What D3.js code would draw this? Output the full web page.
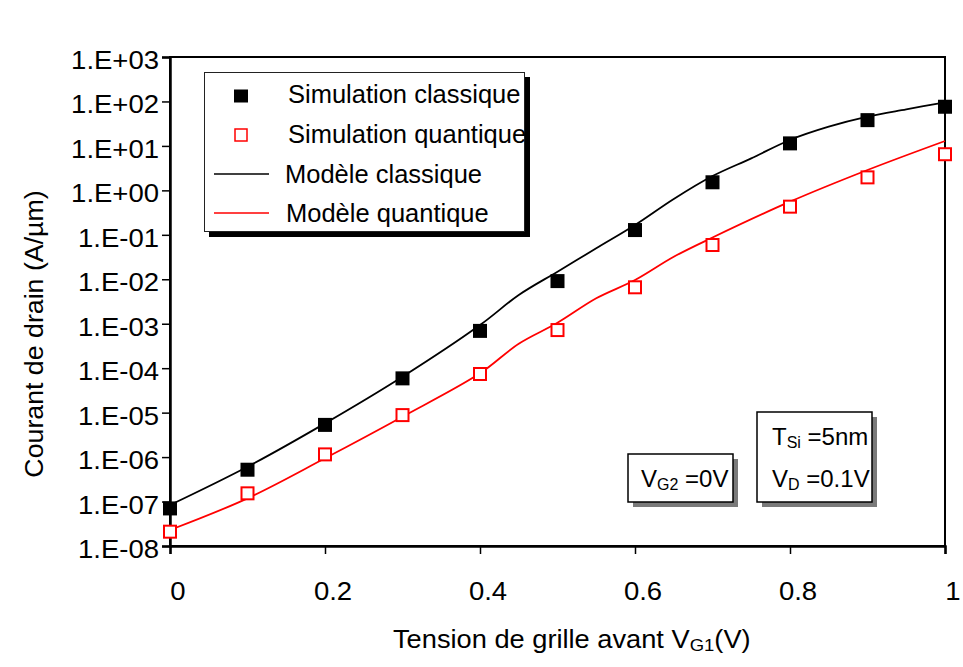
<!DOCTYPE html>
<html><head><meta charset="utf-8">
<script src="https://cdn.jsdelivr.net/npm/d3@7"></script>
<style>
html,body{margin:0;padding:0;background:#fff;}
text{font-family:"Liberation Sans",Arial,sans-serif;fill:#000;}
</style></head>
<body>
<svg id="chart" width="963" height="667"></svg>
<script>
// ---- data ----
const vg = [0, 0.1, 0.2, 0.3, 0.4, 0.5, 0.6, 0.7, 0.8, 0.9, 1.0];
const simClassique = [7.0e-8, 5.2e-7, 5.3e-6, 5.9e-5, 6.9e-4, 9.1e-3, 0.128, 1.52, 11.4, 38, 76];
const simQuantique = [2.1e-8, 1.53e-7, 1.15e-6, 8.8e-6, 7.4e-5, 7.2e-4, 6.6e-3, 0.059, 0.43, 1.96, 6.5];
const modClassiqueX = [0, 0.1, 0.2, 0.3, 0.4, 0.45, 0.5, 0.55, 0.6, 0.65, 0.7, 0.75, 0.8, 0.85, 0.9, 0.95, 1.0];
const modClassiqueY = [8.34e-8, 6.07e-7, 5.74e-6, 6.43e-5, 9.35e-4, 4.43e-3, 0.0148, 0.0497, 0.166, 0.64, 2.1, 5.26, 13.6, 27.0, 45.4, 66.5, 95.7];
const modQuantiqueX = [0, 0.1, 0.2, 0.3, 0.4, 0.45, 0.5, 0.55, 0.6, 0.65, 0.7, 0.8, 0.9, 1.0];
const modQuantiqueY = [2.29e-8, 1.18e-7, 9.38e-7, 8.09e-6, 7.66e-5, 3.55e-4, 1.05e-3, 3.73e-3, 9.6e-3, 3.21e-2, 8.69e-2, 0.556, 2.87, 12.9];
const xTicks = [0, 0.2, 0.4, 0.6, 0.8, 1];
const xTickLabels = ["0", "0.2", "0.4", "0.6", "0.8", "1"];
const yTicks = [1e3, 1e2, 1e1, 1e0, 1e-1, 1e-2, 1e-3, 1e-4, 1e-5, 1e-6, 1e-7, 1e-8];
const yTickLabels = ["1.E+03", "1.E+02", "1.E+01", "1.E+00", "1.E-01", "1.E-02", "1.E-03", "1.E-04", "1.E-05", "1.E-06", "1.E-07", "1.E-08"];
const legendLabels = ["Simulation classique", "Simulation quantique", "Modèle classique", "Modèle quantique"];

// ---- layout ----
const svg = d3.select("#chart");
const L = 170, R = 945, T = 57, B = 546;
const x = d3.scaleLinear().domain([0, 1]).range([L, R]);
const y = d3.scaleLog().domain([1e-8, 1e3]).range([B, T]);

function stext(g, px, py, sx, size, anchor) {
  return g.append("text")
    .attr("transform", `translate(${px},${py}) scale(${sx},1)`)
    .attr("font-size", size)
    .attr("text-anchor", anchor || "start");
}

// frame
svg.append("rect").attr("x", L).attr("y", T).attr("width", R - L).attr("height", B - T)
  .attr("fill", "none").attr("stroke", "#000").attr("stroke-width", 2);

// axes
const yAxis = d3.axisLeft(y).tickValues(yTicks).tickSize(8).tickFormat("");
const gy = svg.append("g").attr("transform", `translate(${L},0)`).call(yAxis);
gy.select(".domain").attr("stroke-width", 2.5);
gy.selectAll(".tick line").attr("stroke-width", 1.5);

const xAxis = d3.axisBottom(x).tickValues(xTicks).tickSize(8).tickFormat("");
const gx = svg.append("g").attr("transform", `translate(0,${B})`).call(xAxis);
gx.select(".domain").attr("stroke-width", 2.5);
gx.selectAll(".tick line").attr("stroke-width", 1.5);

yTicks.forEach((v, i) => {
  stext(svg, 159, y(v) + 12, 1.1, 25, "end").text(yTickLabels[i]);
});
xTicks.forEach((v, i) => {
  stext(svg, x(v) + 8, 600, 1.1, 25, "middle").text(xTickLabels[i]);
});

// axis titles
const xt = stext(svg, 393, 648, 1.09, 25, "start");
xt.append("tspan").text("Tension de grille avant V");
xt.append("tspan").attr("font-size", 17).attr("dy", 3).text("G1");
xt.append("tspan").attr("dy", -3).text("(V)");

svg.append("text")
  .attr("transform", "translate(43,334) rotate(-90) scale(1.07,1)")
  .attr("font-size", 25).attr("text-anchor", "middle")
  .text("Courant de drain (A/µm)");

// model lines
const line = d3.line().x(d => x(d[0])).y(d => y(d[1])).curve(d3.curveCatmullRom.alpha(0.5));
svg.append("path").datum(modClassiqueX.map((v, i) => [v, modClassiqueY[i]]))
  .attr("d", line).attr("fill", "none").attr("stroke", "#000").attr("stroke-width", 1.8);
svg.append("path").datum(modQuantiqueX.map((v, i) => [v, modQuantiqueY[i]]))
  .attr("d", line).attr("fill", "none").attr("stroke", "#ff0000").attr("stroke-width", 1.8);

// markers
const S = 14;
svg.append("g").selectAll("rect").data(vg.map((v, i) => [v, simClassique[i]])).join("rect")
  .attr("x", d => x(d[0]) - S / 2).attr("y", d => y(d[1]) - S / 2)
  .attr("width", S).attr("height", S).attr("fill", "#000");
svg.append("g").selectAll("rect").data(vg.map((v, i) => [v, simQuantique[i]])).join("rect")
  .attr("x", d => x(d[0]) - (S - 2) / 2).attr("y", d => y(d[1]) - (S - 2) / 2)
  .attr("width", S - 2).attr("height", S - 2).attr("fill", "#fff")
  .attr("stroke", "#ff0000").attr("stroke-width", 2);

// legend
const lg = svg.append("g");
lg.append("rect").attr("x", 209).attr("y", 77).attr("width", 321).attr("height", 160).attr("fill", "#000");
lg.append("rect").attr("x", 204.5).attr("y", 72.5).attr("width", 320).attr("height", 159)
  .attr("fill", "#fff").attr("stroke", "#222").attr("stroke-width", 1);
lg.append("rect").attr("x", 234).attr("y", 89.5).attr("width", 14).attr("height", 13).attr("fill", "#000");
lg.append("rect").attr("x", 235).attr("y", 129).attr("width", 12).attr("height", 12)
  .attr("fill", "#fff").attr("stroke", "#ff0000").attr("stroke-width", 1.5);
lg.append("line").attr("x1", 214).attr("x2", 269).attr("y1", 174).attr("y2", 174).attr("stroke", "#000").attr("stroke-width", 1.5);
lg.append("line").attr("x1", 214).attr("x2", 269).attr("y1", 213).attr("y2", 213).attr("stroke", "#ff0000").attr("stroke-width", 1.5);
const lgX = [288, 288, 285, 286];
const lgY = [103, 143, 183, 222];
legendLabels.forEach((t, i) => {
  stext(lg, lgX[i], lgY[i], 1.02, 25, "start").text(t);
});

// annotation boxes
function box(x0, y0, w, h) {
  svg.append("rect").attr("x", x0 + 5).attr("y", y0 + 5).attr("width", w).attr("height", h).attr("fill", "#7a7a7a");
  svg.append("rect").attr("x", x0).attr("y", y0).attr("width", w).attr("height", h)
    .attr("fill", "#fff").attr("stroke", "#000").attr("stroke-width", 1.5);
}
box(628, 454, 105, 48);
box(757, 412, 115, 90);

function subText(px, py, main, sub, rest) {
  const t = stext(svg, px, py, 1.0, 24, "start");
  t.append("tspan").text(main);
  t.append("tspan").attr("font-size", 16).attr("dy", 3).text(sub);
  t.append("tspan").attr("dy", -3).text(rest);
}
subText(641, 487, "V", "G2", " =0V");
subText(772, 445, "T", "Si", " =5nm");
subText(772, 487, "V", "D", " =0.1V");
</script>
</body></html>
